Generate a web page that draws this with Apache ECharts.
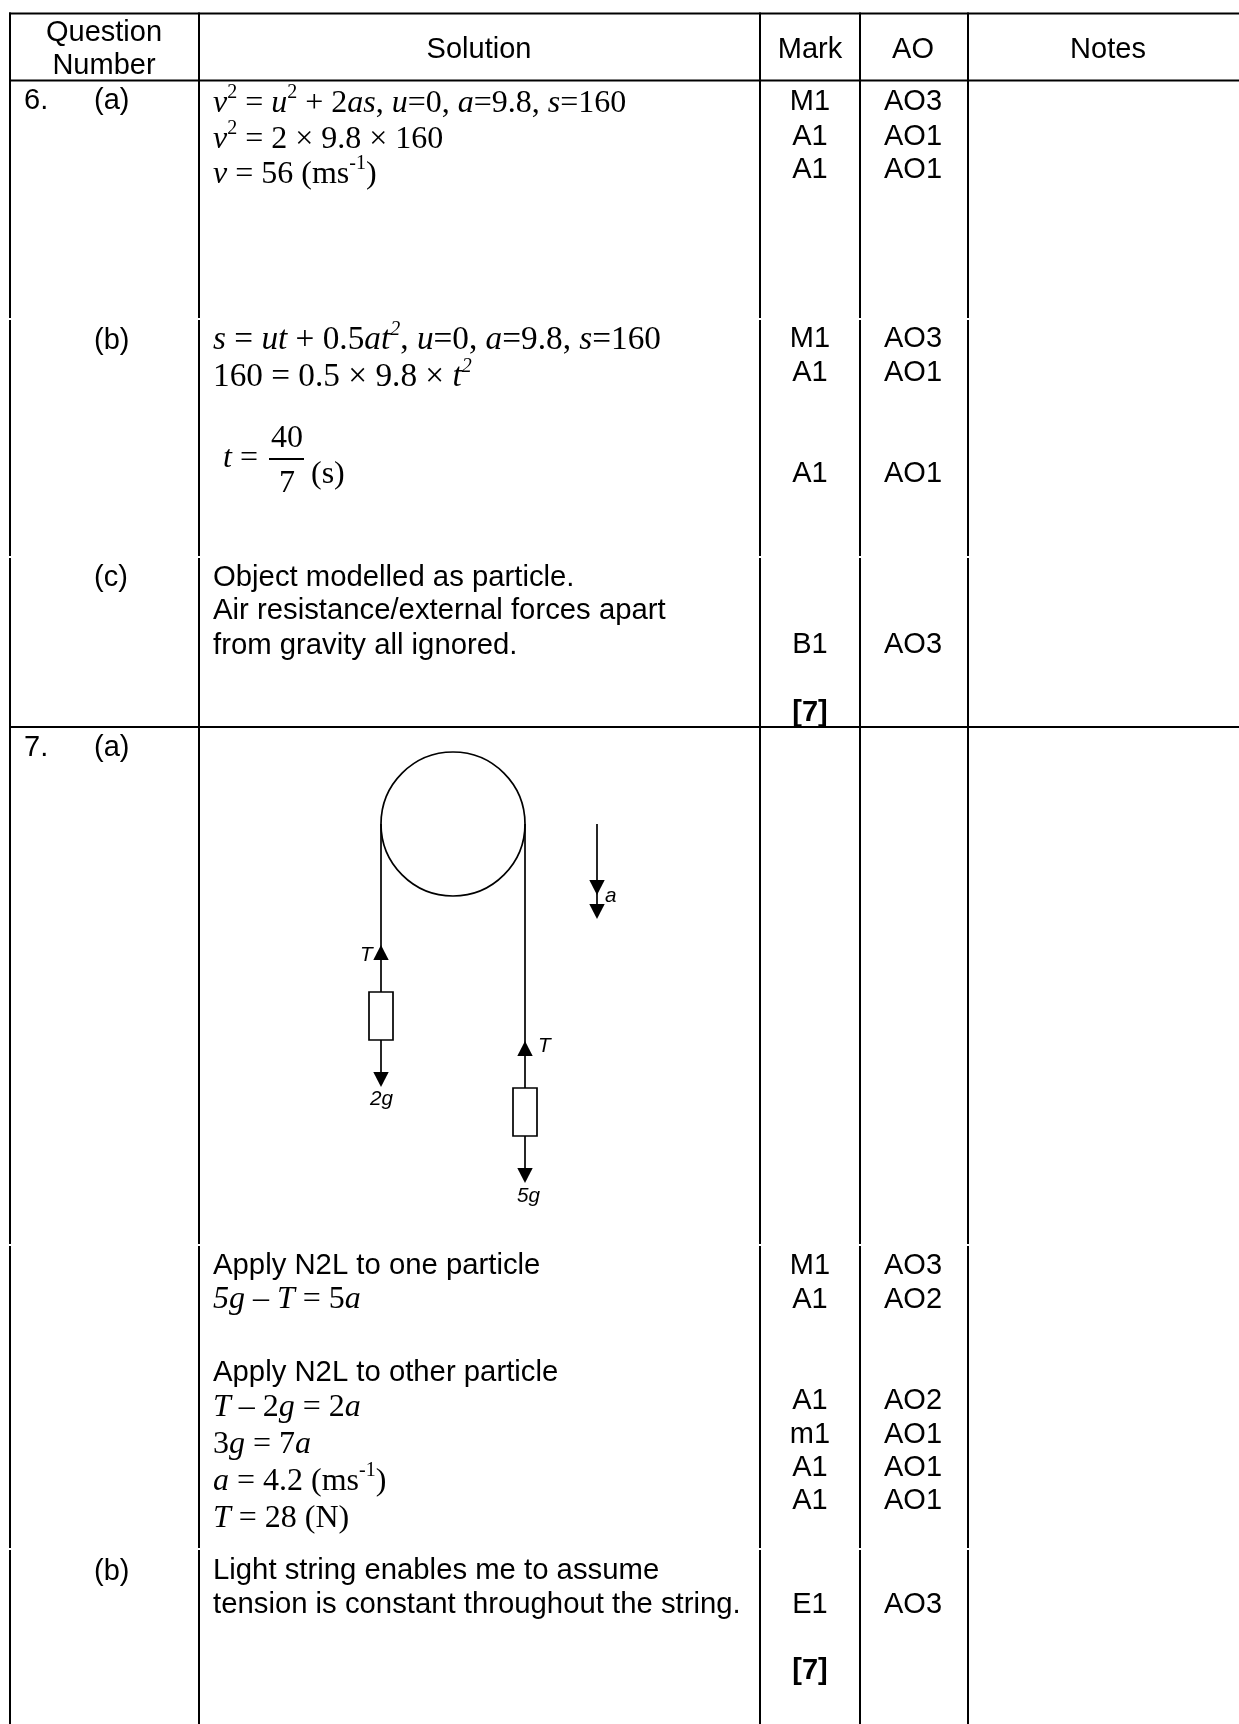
<!DOCTYPE html>
<html lang="en">
<head>
    <meta charset="UTF-8">
    <title>Mark scheme</title>
    <script src="https://cdn.jsdelivr.net/npm/echarts@6/dist/echarts.min.js"></script>
    <style>
        html, body { margin: 0; padding: 0; background: #fff; overflow: hidden; }
        #app { width: 1239px; height: 1724px; }
    </style>
</head>
<body>
<div id="app"></div>
<script>
    // table content
    const headerLabels = ['Question', 'Number', 'Solution', 'Mark', 'AO', 'Notes']
    const questionNumbers = ['6.', '7.']
    const questionParts = ['(a)', '(b)', '(c)', '(a)', '(b)']
    const markLabels = ['M1', 'A1', 'A1', 'M1', 'A1', 'A1', 'B1', '[7]', 'M1', 'A1', 'A1', 'm1', 'A1', 'A1', 'E1', '[7]']
    const aoLabels = ['AO3', 'AO1', 'AO1', 'AO3', 'AO1', 'AO1', 'AO3', '', 'AO3', 'AO2', 'AO2', 'AO1', 'AO1', 'AO1', 'AO3', '']
    const solutionMath = [
        '{i|v}{s|2}{r| = }{i|u}{s|2}{r| + 2}{i|as}{r|, }{i|u}{r|=0, }{i|a}{r|=9.8, }{i|s}{r|=160}',
        '{i|v}{s|2}{r| = 2 × 9.8 × 160}',
        '{i|v}{r| = 56 (ms}{s|-1}{r|)}',
        '{I|s}{R| = }{I|ut}{R| + 0.5}{I|at}{si|2}{R|, }{I|u}{R|=0, }{I|a}{R|=9.8, }{I|s}{R|=160}',
        '{R|160 = 0.5 × 9.8 × }{I|t}{si|2}',
        '{i|5g}{r| – }{i|T}{r| = 5}{i|a}',
        '{i|T}{r| – 2}{i|g}{r| = 2}{i|a}',
        '{r|3}{i|g}{r| = 7}{i|a}',
        '{i|a}{r| = 4.2 (ms}{s|-1}{r|)}',
        '{i|T}{r| = 28 (N)}'
    ]
    const solutionWords = [
        'Object modelled as particle.',
        'Air resistance/external forces apart',
        'from gravity all ignored.',
        'Apply N2L to one particle',
        'Apply N2L to other particle',
        'Light string enables me to assume',
        'tension is constant throughout the string.'
    ]
    const fractionParts = ['{i|t}{r| =}', '{r|40}', '{r|7}', '{r|(s)}']
    const diagramLabels = ['T', '2g', 'a', 'T', '5g']

    // layout, in page pixels
    const columnEdges = [10, 199, 760, 860, 968]
    const rowRules = [13.5, 80.5, 727]
    const verticalSpans = [[12.5, 318], [320, 556], [558, 1244], [1246, 1548], [1550, 1724]]
    const headerPos = [[104, 40], [104, 73], [479, 57], [810, 57], [913, 57], [1108, 57]]
    const numberPos = [[24, 108], [24, 755]]
    const partPos = [[94, 108], [94, 348], [94, 585], [94, 755], [94, 1579]]
    const markBaselines = [109, 144, 177, 346, 380, 481, 652, 720, 1273, 1307, 1408, 1442, 1475, 1508, 1612, 1678]
    const mathBaselines = [112, 148, 183, 349, 386, 1308, 1416, 1453, 1490, 1527]
    const wordBaselines = [585, 618, 653, 1273, 1380, 1578, 1612]
    const fractionPos = [[223, 467], [287, 447], [287, 492], [311, 483]]
    const diagramLabelPos = [[360, 961], [370, 1105], [605, 902], [538, 1052], [517, 1202]]

    // pulley diagram geometry
    const pulley = [453, 824, 72]
    const strings = [
        [381, 824, 381, 992], [381, 1040, 381, 1080],
        [525, 824, 525, 1088], [525, 1136, 525, 1175],
        [597, 824, 597, 912]
    ]
    const blocks = [[369, 992, 24, 48], [513, 1088, 24, 48]]
    const arrowheads = [
        [381, 960, 945], [381, 1072, 1087], [525, 1056, 1041],
        [525, 1168, 1183], [597, 880, 895], [597, 904, 919]
    ]

    const SANS = 'Liberation Sans'
    const SERIF = 'Liberation Serif'
    const SANS_SIZE = 29
    const WORD_SIZE = 29.3
    const SERIF_SIZE = 32
    const SANS_MID = 7.4
    const SERIF_MID = 8.6

    const mathRich = {
        r: { fontFamily: SERIF, fontSize: SERIF_SIZE, lineHeight: 42, color: '#000' },
        i: { fontFamily: SERIF, fontSize: SERIF_SIZE, fontStyle: 'italic', lineHeight: 42, color: '#000' },
        R: { fontFamily: SERIF, fontSize: 33.3, lineHeight: 42, color: '#000' },
        I: { fontFamily: SERIF, fontSize: 33.3, fontStyle: 'italic', lineHeight: 42, color: '#000' },
        s: { fontFamily: SERIF, fontSize: 20, verticalAlign: 'top', color: '#000' },
        si: { fontFamily: SERIF, fontSize: 20, fontStyle: 'italic', verticalAlign: 'top', color: '#000' }
    }

    let labels = []
    function addSans(text, x, y, align, bold, size) {
        labels.push({ text: text, x: x, y: y - SANS_MID, align: align, family: SANS, size: size || SANS_SIZE, weight: bold ? 'bold' : 'normal' })
    }
    function addMath(text, x, y, align) {
        labels.push({ text: text, x: x, y: y - SERIF_MID, align: align, rich: mathRich })
    }

    headerLabels.forEach((t, i) => addSans(t, headerPos[i][0], headerPos[i][1], 'center'))
    questionNumbers.forEach((t, i) => addSans(t, numberPos[i][0], numberPos[i][1], 'left'))
    questionParts.forEach((t, i) => addSans(t, partPos[i][0], partPos[i][1], 'left'))
    markLabels.forEach((t, i) => addSans(t, 810, markBaselines[i], 'center', t === '[7]'))
    aoLabels.forEach((t, i) => { if (t) addSans(t, 913, markBaselines[i], 'center') })
    solutionMath.forEach((t, i) => addMath(t, 213, mathBaselines[i], 'left'))
    solutionWords.forEach((t, i) => addSans(t, 213, wordBaselines[i], 'left', false, WORD_SIZE))
    fractionParts.forEach((t, i) => addMath(t, fractionPos[i][0], fractionPos[i][1], i === 1 || i === 2 ? 'center' : 'left'))
    diagramLabels.forEach((t, i) => {
        labels.push({ text: t, x: diagramLabelPos[i][0], y: diagramLabelPos[i][1] - 5.3, align: 'left', family: SANS, size: 20.7, style: 'italic', weight: 'normal' })
    })

    let ruleData = []
    rowRules.forEach(y => ruleData.push([columnEdges[0] - 1, y, 1239, y]))
    columnEdges.forEach(x => verticalSpans.forEach(s => ruleData.push([x, s[0], x, s[1]])))

    function segment(params, api) {
        const a = api.coord([api.value(0), api.value(1)])
        const b = api.coord([api.value(2), api.value(3)])
        return { type: 'line', shape: { x1: a[0], y1: a[1], x2: b[0], y2: b[1] }, style: { stroke: '#000', lineWidth: api.value(4) } }
    }

    const chart = echarts.init(document.getElementById('app'), null, { renderer: 'canvas' })
    chart.setOption({
        animation: false,
        backgroundColor: '#fff',
        grid: { left: 0, right: 0, top: 0, bottom: 0 },
        xAxis: { type: 'value', min: 0, max: 1239, show: false },
        yAxis: { type: 'value', min: 0, max: 1724, inverse: true, show: false },
        series: [
            {
                type: 'custom', name: 'rules', silent: true, clip: false,
                data: ruleData.map(r => r.concat(2)),
                renderItem: segment
            },
            {
                type: 'custom', name: 'fraction bar', silent: true, clip: false,
                data: [[269, 459, 304, 459, 2]],
                renderItem: segment
            },
            {
                type: 'custom', name: 'strings', silent: true, clip: false,
                data: strings.map(r => r.concat(1.7)),
                renderItem: segment
            },
            {
                type: 'custom', name: 'pulley', silent: true, clip: false,
                data: [pulley],
                renderItem: function (params, api) {
                    const c = api.coord([api.value(0), api.value(1)])
                    return { type: 'circle', shape: { cx: c[0], cy: c[1], r: api.value(2) }, style: { fill: 'none', stroke: '#000', lineWidth: 1.7 } }
                }
            },
            {
                type: 'custom', name: 'blocks', silent: true, clip: false,
                data: blocks,
                renderItem: function (params, api) {
                    const c = api.coord([api.value(0), api.value(1)])
                    return { type: 'rect', shape: { x: c[0], y: c[1], width: api.value(2), height: api.value(3) }, style: { fill: '#fff', stroke: '#000', lineWidth: 1.7 } }
                }
            },
            {
                type: 'custom', name: 'arrowheads', silent: true, clip: false,
                data: arrowheads,
                renderItem: function (params, api) {
                    const b = api.coord([api.value(0), api.value(1)])
                    const p = api.coord([api.value(0), api.value(2)])
                    return { type: 'polygon', shape: { points: [[b[0] - 7.7, b[1]], [b[0] + 7.7, b[1]], p] }, style: { fill: '#000' } }
                }
            },
            {
                type: 'custom', name: 'labels', silent: true, clip: false,
                data: labels.map(l => [l.x, l.y]),
                renderItem: function (params, api) {
                    const l = labels[params.dataIndex]
                    const c = api.coord([api.value(0), api.value(1)])
                    const style = { x: c[0], y: c[1], text: l.text, align: l.align, verticalAlign: 'middle', fill: '#000' }
                    if (l.rich) {
                        style.rich = l.rich
                    } else {
                        style.fontFamily = l.family
                        style.fontSize = l.size
                        style.fontWeight = l.weight
                        style.fontStyle = l.style || 'normal'
                    }
                    return { type: 'text', style: style }
                }
            }
        ]
    })
</script>
</body>
</html>
